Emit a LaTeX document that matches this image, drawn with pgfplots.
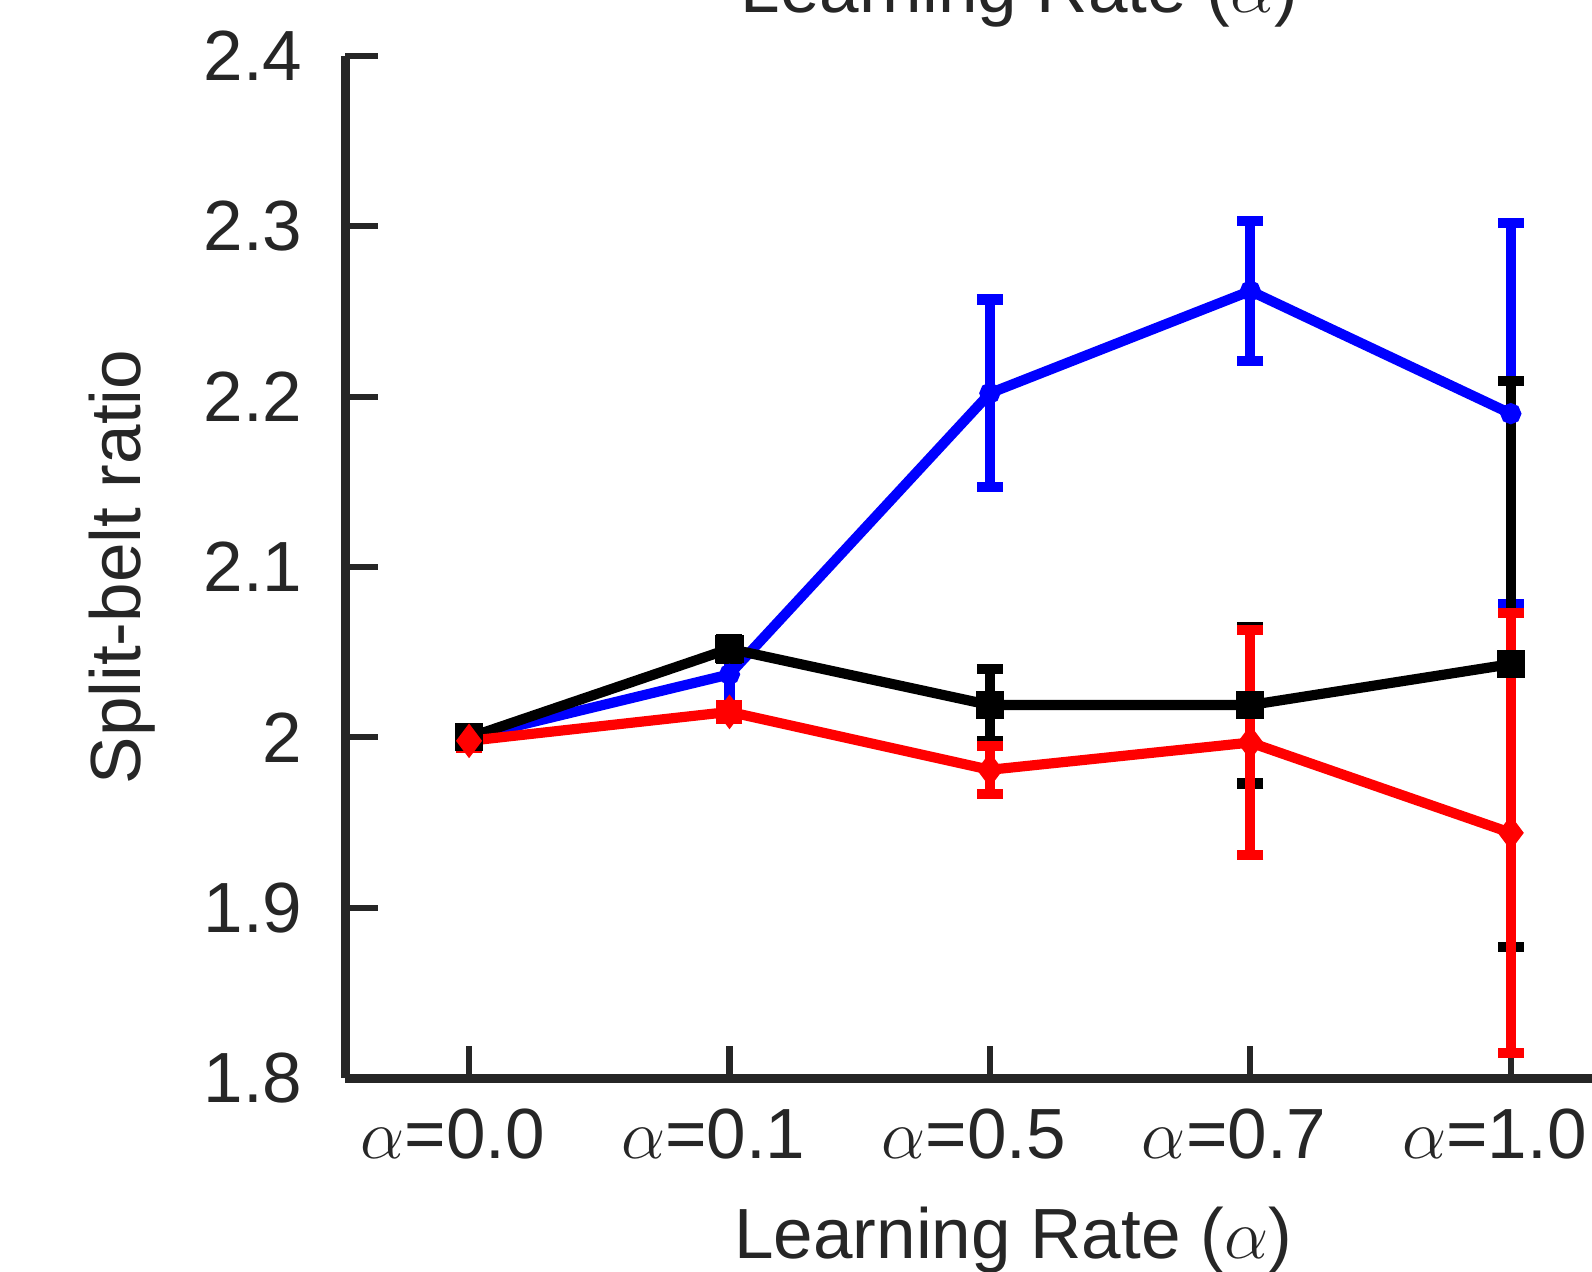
\documentclass[border=0pt]{standalone}
\usepackage{fontspec}
\setmainfont{Liberation Sans}
\usepackage{pgfplots}
\pgfplotsset{compat=1.18}
\definecolor{axisgray}{rgb}{0.15,0.15,0.15}
\newcommand{\lblfont}{\fontsize{17.5}{21}\selectfont}
\begin{document}
\begin{tikzpicture}
\begin{axis}[name=ax, scale only axis, width=307pt, height=251.75pt,
  xmin=-0.4756, xmax=4.312, ymin=1.8, ymax=2.4,
  axis x line*=bottom, axis y line*=left,
  axis line style={line width=2.2pt, color=axisgray},
  tick align=inside, major tick length=8pt,
  every tick/.style={line width=1.5pt, color=axisgray},
  xtick={0,1,2,3,4},
  xticklabels={$\alpha$=0.0,$\alpha$=0.1,$\alpha$=0.5,$\alpha$=0.7,$\alpha$=1.0},
  ytick={1.8,1.9,2.0,2.1,2.2,2.3,2.4},
  yticklabels={1.8,1.9,2,2.1,2.2,2.3,2.4},
  ticklabel style={font=\lblfont, color=axisgray},
  xticklabel style={yshift=-4pt, xshift=-4pt},
  yticklabel style={xshift=-7pt},
  xlabel={Learning Rate ($\alpha$)},
  ylabel={Split-belt ratio},
  xlabel style={font=\lblfont, color=axisgray, at={(axis description cs:0.5358,-0.1767)}, anchor=base},
  ylabel style={font=\lblfont, color=axisgray, at={(axis description cs:-0.1792,0.5)}, anchor=center},
  every axis plot/.append style={line width=2.5pt},
  error bars/error bar style={line width=2.5pt},
  error bars/error mark options={rotate=90, mark size=3.2pt, line width=2.5pt},
]
\addplot+[blue, mark=*, mark size=1.3pt, mark options={blue},
  error bars/.cd, y dir=both, y explicit] coordinates {
  (0,2.000) +- (0,0.003)
  (1,2.037) +- (0,0.020)
  (2,2.202) +- (0,0.055)
  (3,2.262) +- (0,0.041)
  (4,2.190) +- (0,0.112)
};
\addplot+[black, mark=square*, mark size=2.2pt, mark options={black},
  error bars/.cd, y dir=both, y explicit] coordinates {
  (0,2.000) +- (0,0.003)
  (1,2.052) +- (0,0.006)
  (2,2.019) +- (0,0.021)
  (3,2.019) +- (0,0.046)
  (4,2.043) +- (0,0.166)
};
\addplot+[red, mark=diamond*, mark size=2.2pt, mark options={red},
  error bars/.cd, y dir=both, y explicit] coordinates {
  (0,1.998) +- (0,0.004)
  (1,2.015) +- (0,0.004)
  (2,1.981) +- (0,0.014)
  (3,1.997) +- (0,0.066)
  (4,1.944) +- (0,0.129)
};
\end{axis}
\node[anchor=base, font=\lblfont, text=axisgray] at ([xshift=166pt, yshift=10.75pt]ax.north west) {Learning Rate ($\alpha$)};
\pgfresetboundingbox
\path[use as bounding box] ([xshift=-85pt,yshift=-47.5pt]ax.south west) rectangle ([yshift=13.75pt]ax.north east);
\end{tikzpicture}
\end{document}
